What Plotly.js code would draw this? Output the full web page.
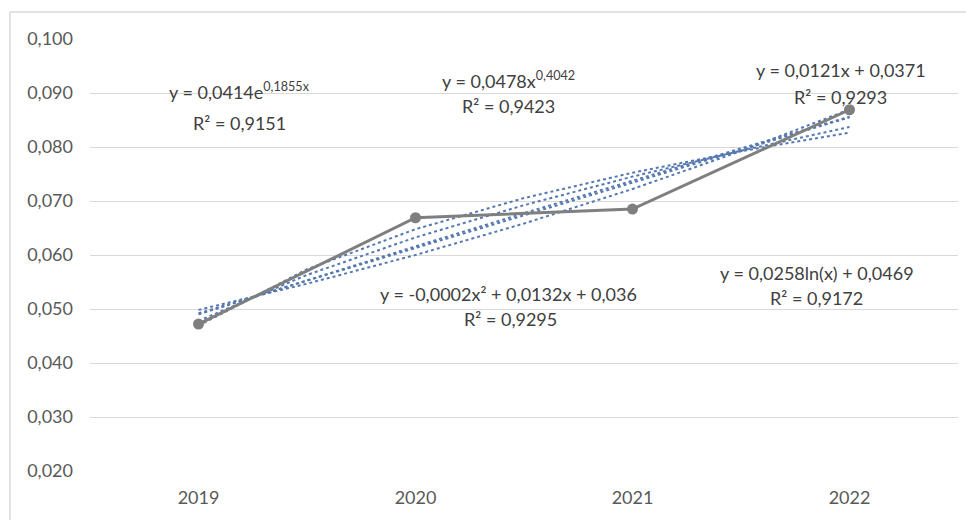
<!DOCTYPE html>
<html>
<head>
<meta charset="utf-8">
<script src="https://cdn.plot.ly/plotly-3.0.1.min.js"></script>
<style>
html,body{margin:0;padding:0;background:#fff;}
#chart{width:966px;height:520px;}
</style>
</head>
<body>
<div id="chart"></div>
<script>
// Categories and observed series
const years = ['2019', '2020', '2021', '2022'];
const yearPos = [0, 1, 2, 3];
const values = [0.0472, 0.0669, 0.0685, 0.0869];

// Trendline sample positions (x = 1 .. 4 in Excel's terms) and values read from the displayed equations
const trendPos = [0, 0.5, 1, 1.5, 2, 2.5, 3];
const trendExp = [0.04984, 0.05468, 0.06000, 0.06583, 0.07222, 0.07924, 0.08695];
const trendPow = [0.04780, 0.05631, 0.06326, 0.06923, 0.07452, 0.07931, 0.08371];
const trendLin = [0.04920, 0.05525, 0.06130, 0.06735, 0.07340, 0.07945, 0.08550];
const trendLog = [0.04690, 0.05736, 0.06478, 0.07054, 0.07524, 0.07922, 0.08267];
const trendPoly = [0.04900, 0.05535, 0.06160, 0.06775, 0.07380, 0.07975, 0.08560];

// Equation labels
const eqTexts = [
  'y = 0,0414e<sup>0,1855x</sup>', 'R² = 0,9151',
  'y = 0,0478x<sup>0,4042</sup>', 'R² = 0,9423',
  'y = 0,0121x + 0,0371', 'R² = 0,9293',
  'y = 0,0258ln(x) + 0,0469', 'R² = 0,9172',
  'y = -0,0002x² + 0,0132x + 0,036', 'R² = 0,9295'
];
const eqX = [0.19, 0.19, 1.43, 1.43, 2.96, 2.96, 2.85, 2.85, 1.43, 1.44];
const eqY = [0.0904, 0.0845, 0.0924, 0.0876, 0.0942, 0.0892, 0.0567, 0.0520, 0.0528, 0.0482];

const trendColor = '#5578b0';
function trend(y) {
  return {x: trendPos, y: y, type: 'scatter', mode: 'lines',
          line: {color: trendColor, width: 2, dash: 'dot'}, hoverinfo: 'skip', showlegend: false};
}

const data = [
  trend(trendExp), trend(trendPow), trend(trendLin), trend(trendLog), trend(trendPoly),
  {x: yearPos, y: values, type: 'scatter', mode: 'lines+markers',
   line: {color: '#7f7f7f', width: 3}, marker: {color: '#7f7f7f', size: 11}, showlegend: false}
];

const font = 'Lato, "Open Sans", sans-serif';
const annotations = eqTexts.map((t, i) => ({
  x: eqX[i], y: eqY[i], xref: 'x', yref: 'y', text: t, showarrow: false,
  font: {family: font, size: 18, color: '#404040'}, xanchor: 'center', yanchor: 'middle'
}));

const layout = {
  width: 966, height: 520,
  margin: {l: 90, r: 8, t: 39, b: 49},
  paper_bgcolor: '#ffffff', plot_bgcolor: '#ffffff',
  separators: ',.',
  font: {family: font, size: 18, color: '#595959'},
  showlegend: false,
  xaxis: {
    range: [-0.5, 3.5], tickvals: yearPos, ticktext: years,
    showgrid: false, zeroline: false, showline: false, ticks: '',
    ticklabelstandoff: 14, fixedrange: true
  },
  yaxis: {
    range: [0.02, 0.1], dtick: 0.01, tick0: 0.02, tickformat: '.3f',
    showgrid: true, gridcolor: '#d9d9d9', gridwidth: 1, zeroline: false,
    showline: false, ticks: '', ticklabelstandoff: 16, fixedrange: true
  },
  annotations: annotations,
  shapes: [{
    type: 'rect', xref: 'paper', yref: 'paper',
    x0: -0.0922, x1: 1.02, y0: -0.25, y1: 1.0625,
    line: {color: '#d9d9d9', width: 1.5}, fillcolor: 'rgba(0,0,0,0)', layer: 'below'
  }]
};

Plotly.newPlot('chart', data, layout, {displayModeBar: false, staticPlot: true});
</script>
</body>
</html>
